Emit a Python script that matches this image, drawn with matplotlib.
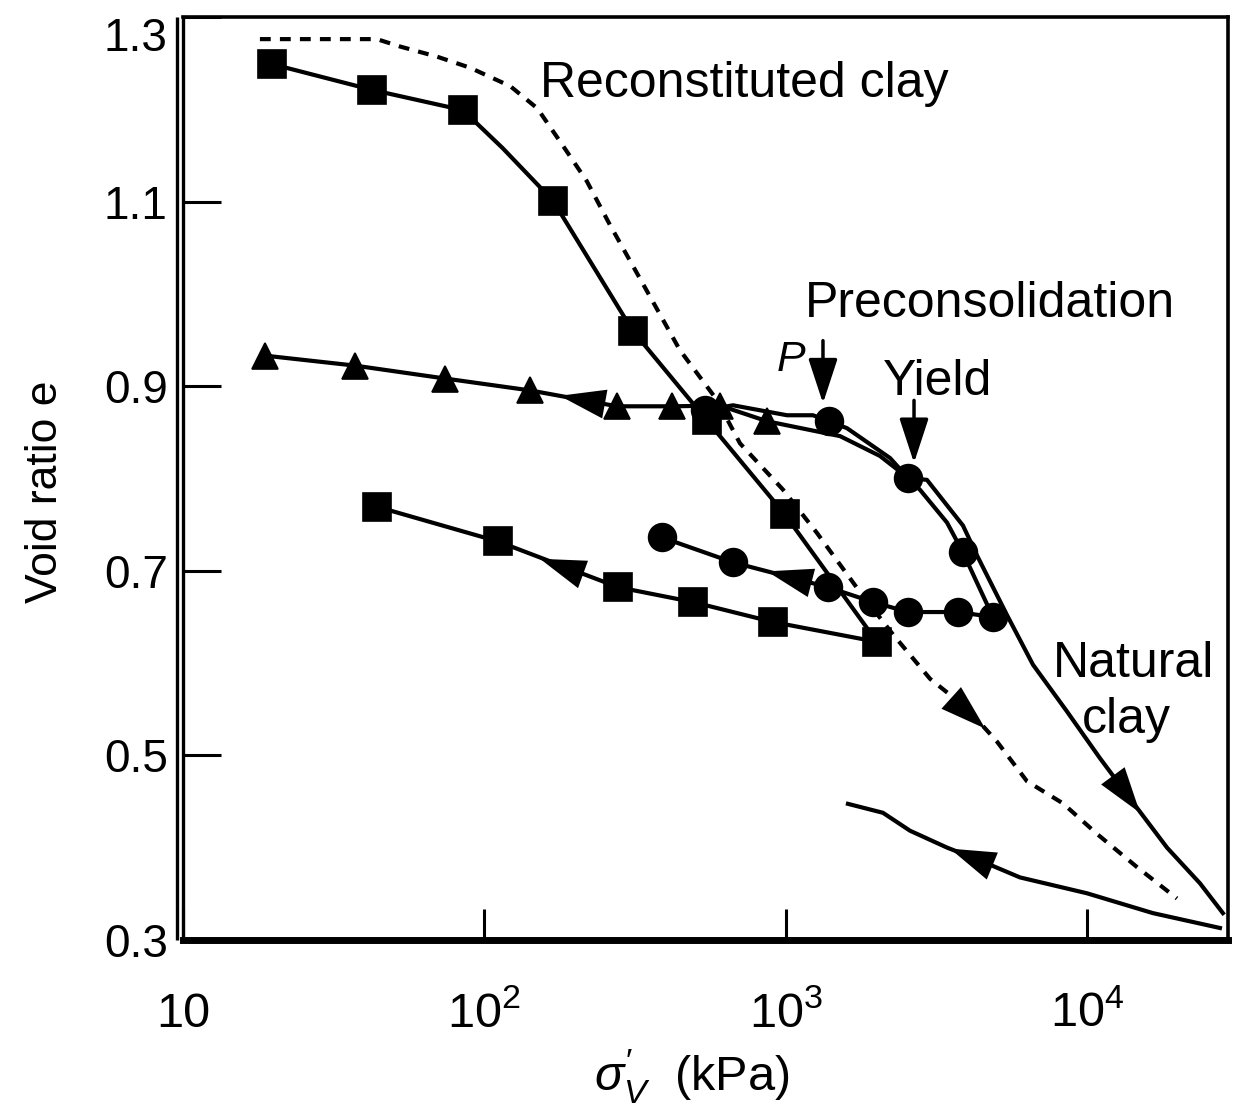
import matplotlib
matplotlib.use("Agg")
import matplotlib.pyplot as plt
from matplotlib import font_manager as fm
from matplotlib.ticker import NullLocator

# ---------------- data ----------------
# Reconstituted clay, dashed compression curve
recon_p = [18.0, 44.0, 52.5, 69.7, 89.7, 122, 150, 182, 219, 261, 336, 446, 592, 706,
           980, 1271, 1766, 2273, 3016, 4000, 5030, 6327, 8330, 10800, 14670, 19910]
recon_e = [1.276, 1.276, 1.268, 1.257, 1.245, 1.225, 1.201, 1.161, 1.122, 1.075, 1.011,
           0.939, 0.885, 0.838, 0.788, 0.741, 0.677, 0.631, 0.583, 0.551, 0.515, 0.472,
           0.448, 0.415, 0.379, 0.345]

# Squares: loading curve and its measured points
sq_load_p = [19.7, 42.4, 85.0, 115, 169, 311, 548, 995, 2011]
sq_load_e = [1.249, 1.221, 1.199, 1.158, 1.101, 0.960, 0.863, 0.761, 0.623]
sq_load_pts_p = [19.7, 42.4, 85.0, 169, 311, 548, 995, 2011]
sq_load_pts_e = [1.249, 1.221, 1.199, 1.101, 0.960, 0.863, 0.761, 0.623]
# Squares: unloading
sq_unload_p = [2011, 908, 493, 278, 111, 44.0]
sq_unload_e = [0.623, 0.6445, 0.6661, 0.6822, 0.7318, 0.7694]

# Triangles (natural clay, low stress part)
tri_p = [18.7, 37.2, 74.1, 142, 276, 420, 606, 868]
tri_e = [0.9331, 0.9223, 0.9083, 0.8954, 0.8782, 0.8782, 0.8790, 0.862]
# Natural clay line continuing beyond the triangles
nat_p = [868, 1516, 2057, 2549, 2946, 3880, 4318, 5430, 6624, 8590, 11050, 14670,
         18450, 23740, 28290]
nat_e = [0.862, 0.8459, 0.8244, 0.8007, 0.7985, 0.749, 0.7167, 0.6521, 0.5983, 0.5476,
         0.497, 0.4432, 0.4001, 0.3614, 0.3291]

# Circles: loading (through P and Yield) and unloading
circ_load_p = [540, 669, 1011, 1233, 1393, 1599, 2221, 2549, 2794, 3435, 3880, 4419, 4880]
circ_load_e = [0.8739, 0.8793, 0.8685, 0.8685, 0.862, 0.8545, 0.8222, 0.8007, 0.7877,
               0.7522, 0.7199, 0.6801, 0.6499]
circ_load_pts_p = [540, 1393, 2549, 3880, 4880]
circ_load_pts_e = [0.8739, 0.862, 0.8007, 0.7199, 0.6499]
circ_unload_p = [4880, 3735, 2549, 1950, 1383, 669, 389]
circ_unload_e = [0.6499, 0.6553, 0.6553, 0.6661, 0.6822, 0.7091, 0.7361]

# Natural clay rebound from the highest stress
rebound_p = [1611, 2105, 2588, 3435, 4419, 5998, 10010, 16570, 27650]
rebound_e = [0.4475, 0.4378, 0.4184, 0.4001, 0.3861, 0.3678, 0.3506, 0.3291, 0.313]

# direction arrows on the curves: (from p, from e, to p, to e)
curve_arrows = [
    (3016, 0.583, 4600, 0.529),
    (11050, 0.497, 15010, 0.4378),
    (5998, 0.3678, 3512, 0.399),
    (1383, 0.6822, 868, 0.6994),
    (278, 0.6822, 153, 0.713),
    (276, 0.8782, 178, 0.8896),
]
# pointer arrows (P and Yield): (p, e_from, e_to)
pointer_arrows = [(1331, 0.9493, 0.8814), (2669, 0.8846, 0.8168)]

x_ticks = [10, 100, 1000, 10000]
x_tick_labels = ["10", r"$\mathregular{10^{2}}$", r"$\mathregular{10^{3}}$",
                 r"$\mathregular{10^{4}}$"]
y_ticks = [0.3, 0.5, 0.7, 0.9, 1.1, 1.3]
y_tick_labels = ["0.3", "0.5", "0.7", "0.9", "1.1", "1.3"]

# ---------------- style ----------------
names = {f.name for f in fm.fontManager.ttflist}
SANS = "Liberation Sans" if "Liberation Sans" in names else "DejaVu Sans"
plt.rcParams.update({
    "font.family": [SANS, "DejaVu Sans"],
    "mathtext.fontset": "custom",
    "mathtext.rm": SANS,
    "mathtext.it": SANS + ":italic",
    "mathtext.bf": SANS + ":bold",
    "mathtext.sf": SANS,
})

fig = plt.figure(figsize=(12.34, 11.09), dpi=100)
ax = fig.add_axes([0.1483, 0.1524, 0.8468, 0.8323])

LW = 3.0
K = "black"
ax.plot(recon_p, recon_e, color=K, lw=LW, ls=(0, (2.6, 2.2)), zorder=2)
ax.plot(sq_load_p, sq_load_e, color=K, lw=LW, zorder=2)
ax.plot(sq_unload_p, sq_unload_e, color=K, lw=LW, zorder=2)
ax.plot(tri_p + nat_p[1:], tri_e + nat_e[1:], color=K, lw=LW, zorder=2)
ax.plot(circ_load_p, circ_load_e, color=K, lw=LW, zorder=2)
ax.plot(circ_unload_p, circ_unload_e, color=K, lw=LW, zorder=2)
ax.plot(rebound_p, rebound_e, color=K, lw=LW, zorder=2)

mk = dict(ls="none", mfc=K, mec=K, mew=1.2)
ax.plot(circ_load_pts_p, circ_load_pts_e, marker="o", ms=20, zorder=3, **mk)
ax.plot(circ_unload_p[1:], circ_unload_e[1:], marker="o", ms=20, zorder=3, **mk)
ax.plot(tri_p, tri_e, marker="^", ms=19, zorder=4, **mk)
ax.plot(sq_load_pts_p, sq_load_pts_e, marker="s", ms=20, zorder=5, **mk)
ax.plot(sq_unload_p[1:], sq_unload_e[1:], marker="s", ms=20, zorder=5, **mk)

for p0, e0, p1, e1 in curve_arrows:
    ax.annotate("", xy=(p1, e1), xytext=(p0, e0),
                arrowprops=dict(arrowstyle="-|>,head_length=0.66,head_width=0.21",
                                mutation_scale=50, lw=0, color=K,
                                shrinkA=0, shrinkB=0), zorder=6)
for p, e0, e1 in pointer_arrows:
    ax.annotate("", xy=(p, e1), xytext=(p, e0),
                arrowprops=dict(arrowstyle="-|>,head_length=0.55,head_width=0.18",
                                mutation_scale=50, lw=2.5, color=K,
                                shrinkA=0, shrinkB=0), zorder=6)

TS = 36
ax.text(153, 1.2131, "Reconstituted clay", fontsize=TS, ha="left", va="baseline")
ax.text(1160, 0.9751, "Preconsolidation", fontsize=TS, ha="left", va="baseline")
ax.text(2105, 0.890, "Yield", fontsize=TS, ha="left", va="baseline")
ax.text(936, 0.9159, "P", fontsize=31, style="italic", ha="left", va="baseline")
ax.text(14330, 0.5853, "Natural", fontsize=TS, ha="center", va="baseline")
ax.text(13490, 0.524, "clay", fontsize=TS, ha="center", va="baseline")

ax.set_xscale("log")
ax.set_xlim(10, 29400)
ax.set_ylim(0.3, 1.3)
ax.set_xticks(x_ticks, x_tick_labels)
ax.xaxis.set_minor_locator(NullLocator())
ax.set_yticks(y_ticks, y_tick_labels)
ax.tick_params(which="both", direction="in", width=2.2, color=K)
ax.tick_params(axis="x", length=22, pad=63, labelsize=35)
ax.tick_params(axis="y", length=27, pad=11, labelsize=33)
plt.setp(ax.get_xticklabels(), va="baseline")
ax.get_yticklabels()[-1].set_va("top")

for s in ("top", "right"):
    ax.spines[s].set_linewidth(2.6)
ax.spines["left"].set_linewidth(2.4)
ax.spines["bottom"].set_linewidth(5)
ax.plot([-0.0062, -0.0062], [0, 1], transform=ax.transAxes, color=K, lw=2.4,
        clip_on=False, solid_capstyle="butt")

ax.set_ylabel("Void ratio e", fontsize=32)
ax.yaxis.set_label_coords(-0.132, 0.4854)
ax.yaxis.label.set_va("center")
ax.set_xlabel(r"$\sigma^{\prime}_{V}$  (kPa)", fontsize=35)
ax.xaxis.set_label_coords(0.487, -0.148)
ax.xaxis.label.set_va("center")

fig.savefig("out.png", dpi=100)
